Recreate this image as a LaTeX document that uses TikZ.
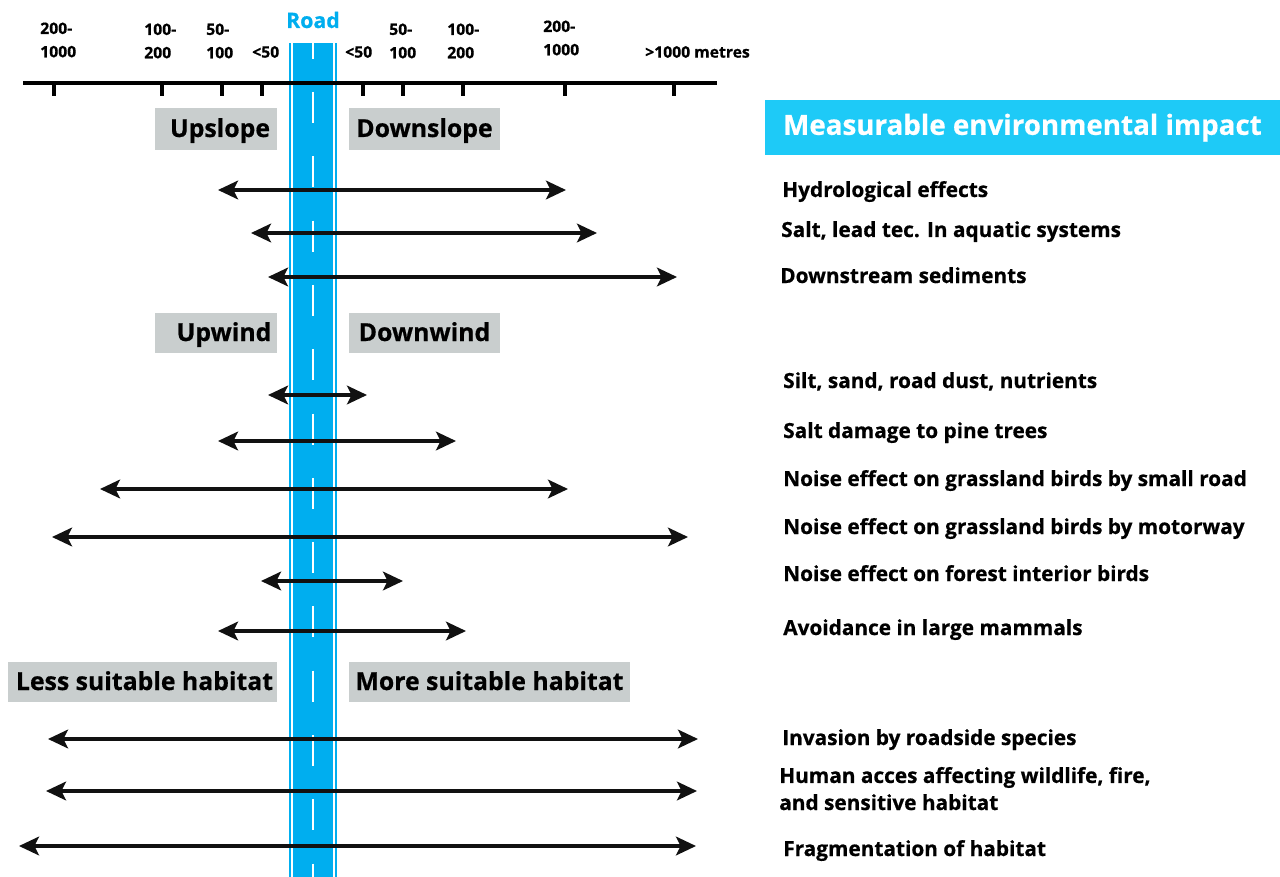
\documentclass[tikz,border=0pt]{standalone}
\usepackage{fontspec}
\setmainfont{Open Sans}[BoldFeatures={FakeBold=0.6}]
\usetikzlibrary{arrows.meta}
\definecolor{roadblue}{HTML}{00AEEF}
\definecolor{headblue}{HTML}{1ECAF7}
\definecolor{boxgray}{HTML}{C9CECE}
\definecolor{ink}{HTML}{111111}
\begin{document}
\begin{tikzpicture}[x=0.75pt,y=-0.75pt,
  impact/.style={{Stealth[length=15pt,width=14pt,inset=3.5pt]}-{Stealth[length=15pt,width=14pt,inset=3.5pt]}, line width=2.6pt, draw=ink},
  axislbl/.style={font=\fontsize{11.8}{17.5}\selectfont\bfseries, align=left, anchor=west, inner sep=0pt},
  grbox/.style={fill=boxgray, inner sep=0pt, font=\fontsize{18.6}{20}\selectfont\bfseries, text=black, text height=12pt, text depth=0pt},
  effect/.style={font=\fontsize{15.6}{20.3}\selectfont\bfseries, anchor=base west, inner sep=0pt, align=left, text=black},
  tick/.style={line width=2.4pt, draw=black}
]
\useasboundingbox (0,0) rectangle (1280,877);
\fill[white] (0,0) rectangle (1280,877);

% road
\fill[roadblue] (289,43) rectangle (337,877);
\draw[white, line width=1.5pt] (292,43) -- (292,877);
\draw[white, line width=1.5pt] (334,43) -- (334,877);
\begin{scope}
\clip (289,43) rectangle (337,877);
\foreach \k in {-1,...,12}{
  \pgfmathsetmacro{\ys}{92+64.3*\k}
  \draw[white, line width=1.5pt] (313,\ys) -- (313,\ys+31);
}
\end{scope}
\node[text=roadblue, font=\fontsize{16}{18}\selectfont\bfseries, inner sep=0pt] (road) at (313,20) {Road};

% axis
\coordinate (axL) at (23,83);
\coordinate (axR) at (717,83);
\draw[line width=2.6pt] (axL) -- (axR);
\foreach \x in {54,162,222,262,363,403,463,565,674}{
  \draw[tick] (\x,83) -- (\x,96);
}
\node[axislbl] (l1) at (40,40) {200-\\1000};
\node[axislbl] (l2) at (144,41) {100-\\200};
\node[axislbl] (l3) at (206,41) {50-\\100};
\node[axislbl] (l4) at (252,52) {<50};
\node[axislbl] (r4) at (345,52) {<50};
\node[axislbl] (r3) at (389,41) {50-\\100};
\node[axislbl] (r2) at (447,41) {100-\\200};
\node[axislbl] (r1) at (543,38) {200-\\1000};
\node[axislbl] (r0) at (645,52) {>1000 metres};

% header
\node[fill=headblue, minimum width=515*0.75pt, minimum height=55*0.75pt, inner sep=0pt,
      text height=11pt, text depth=0pt,
      text=white, font=\fontsize{20.8}{24}\selectfont\bfseries] (head) at (1022.5,127.5) {Measurable environmental impact};

% gray boxes
\node[grbox, minimum width=122*0.75pt, minimum height=42*0.75pt] (up) at (216,129) {\hspace{6pt}Upslope};
\node[grbox, minimum width=151*0.75pt, minimum height=42*0.75pt] (down) at (424.5,129) {Downslope};
\node[grbox, minimum width=122*0.75pt, minimum height=40*0.75pt] (upw) at (216,333) {\hspace{12pt}Upwind};
\node[grbox, minimum width=151*0.75pt, minimum height=40*0.75pt] (downw) at (424.5,333) {Downwind};
\node[grbox, minimum width=269*0.75pt, minimum height=40*0.75pt] (less) at (142.5,682) {\hspace{3pt}Less suitable habitat};
\node[grbox, minimum width=281*0.75pt, minimum height=40*0.75pt] (more) at (489.5,682) {More suitable habitat};

% arrows
\foreach \n/\y/\xa/\xb in {1/190/218/566, 2/233/251/597, 3/277/268/677, 4/395/268/367,
  5/441/218/456, 6/489/100/568, 7/537/52/688, 8/581/261/403, 9/631/218/466,
  10/739/48/698, 11/791/46/697, 12/846/19/696}{
  \coordinate (a\n l) at (\xa,\y);
  \coordinate (a\n r) at (\xb,\y);
  \draw[impact] (a\n l) -- (a\n r);
}

% effect labels
\node[effect] (e1) at (782,197) {Hydrological effects};
\node[effect] (e2) at (781,237) {Salt, lead tec. In aquatic systems};
\node[effect] (e3) at (780,283) {Downstream sediments};
\node[effect] (e4) at (783,388) {Silt, sand, road dust, nutrients};
\node[effect] (e5) at (783,438) {Salt damage to pine trees};
\node[effect] (e6) at (783,486) {Noise effect on grassland birds by small road};
\node[effect] (e7) at (783,534) {Noise effect on grassland birds by motorway};
\node[effect] (e8) at (783,581) {Noise effect on forest interior birds};
\node[effect] (e9) at (783,635) {Avoidance in large mammals};
\node[effect] (e10) at (782,745) {Invasion by roadside species};
\node[effect] (e11) at (779,810) {Human acces affecting wildlife, fire,\\and sensitive habitat};
\node[effect] (e12) at (783,856) {Fragmentation of habitat};
\end{tikzpicture}
\end{document}
